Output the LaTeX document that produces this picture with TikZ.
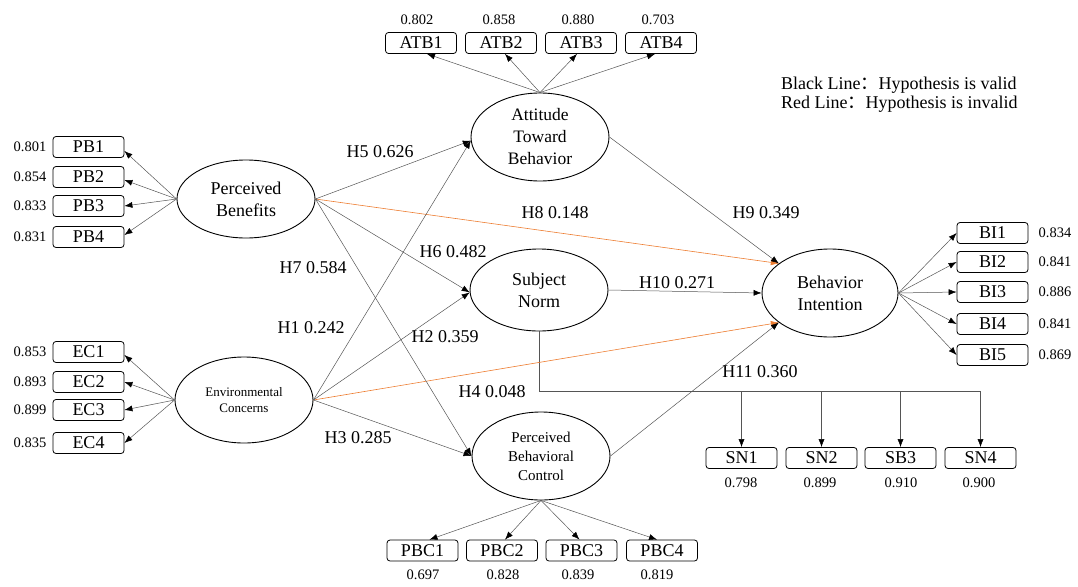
\documentclass[tikz,border=0pt]{standalone}
\usepackage{fontspec}
\setmainfont{Liberation Serif}
\newfontfamily\cjk{Noto Sans CJK SC}
\usetikzlibrary{shapes.geometric,arrows.meta,calc}
\definecolor{inv}{RGB}{237,125,49}
\definecolor{ln}{RGB}{85,85,85}
\begin{document}
\begin{tikzpicture}[x=1pt,y=-1pt,
  lat/.style={ellipse,draw,line width=0.9pt,inner sep=0pt,align=center,minimum width=138pt,minimum height=86pt,font=\fontsize{18}{22}\selectfont},
  ind/.style={draw,rounded corners=3pt,line width=0.8pt,minimum width=71pt,minimum height=21pt,inner sep=0pt,font=\fontsize{18}{20}\selectfont},
  val/.style={font=\fontsize{14.5}{16}\selectfont,inner sep=0pt},
  hyp/.style={font=\fontsize{18}{20}\selectfont,inner sep=0pt},
  leg/.style={font=\fontsize{18}{20}\selectfont,inner sep=0pt,anchor=west},
  conn/.style={draw=ln,line width=0.5pt,-{Latex[length=8pt,width=6pt,color=black]}},
  bad/.style={draw=inv,line width=0.6pt,-{Latex[length=8pt,width=6pt,color=inv]}},
  plain/.style={draw=ln,line width=0.5pt},
]
\useasboundingbox (0,0) rectangle (1078,586);

% latent variables
\node[lat,minimum height=88pt,font=\fontsize{17.5}{22}\selectfont] (ATB) at (540,137) {Attitude\\Toward\\Behavior};
\node[lat,minimum height=78pt] (PB) at (246,199) {Perceived\\Benefits};
\node[lat,font=\fontsize{13}{16}\selectfont] (EC) at (244,400) {Environmental\\Concerns};
\node[lat,minimum height=82pt] (SN) at (539,290) {Subject\\Norm};
\node[lat,minimum width=136pt,minimum height=88pt] (BI) at (830,293) {Behavior\\Intention};
\node[lat,minimum height=88pt,font=\fontsize{15}{19}\selectfont] (PBC) at (541,456) {Perceived\\Behavioral\\Control};

% ATB indicators
\node[ind] (ATB1) at (421,43) {ATB1};
\node[ind] (ATB2) at (501,43) {ATB2};
\node[ind] (ATB3) at (581,43) {ATB3};
\node[ind] (ATB4) at (661,43) {ATB4};
\node[val] (vATB1) at (417,20) {0.802};
\node[val] (vATB2) at (499,20) {0.858};
\node[val] (vATB3) at (578,20) {0.880};
\node[val] (vATB4) at (658,20) {0.703};
\draw[conn] (ATB.north) -- ($(ATB1.south)+(6,0)$);
\draw[conn] (ATB.north) -- ($(ATB2.south)+(4,0)$);
\draw[conn] (ATB.north) -- ($(ATB3.south)+(-4,0)$);
\draw[conn] (ATB.north) -- ($(ATB4.south)+(-6,0)$);

% PB indicators
\node[ind] (PB1) at (88.5,147) {PB1};
\node[ind] (PB2) at (88.5,177) {PB2};
\node[ind] (PB3) at (88.5,206) {PB3};
\node[ind] (PB4) at (88.5,237) {PB4};
\node[val] (vPB1) at (30,147) {0.801};
\node[val] (vPB2) at (30,177) {0.854};
\node[val] (vPB3) at (30,206) {0.833};
\node[val] (vPB4) at (30,237) {0.831};
\draw[conn] (PB.west) -- ($(PB1.east)+(0,4)$);
\draw[conn] (PB.west) -- ($(PB2.east)+(0,3)$);
\draw[conn] (PB.west) -- (PB3.east);
\draw[conn] (PB.west) -- ($(PB4.east)+(0,-2)$);

% EC indicators
\node[ind] (EC1) at (88.5,352) {EC1};
\node[ind] (EC2) at (88.5,382) {EC2};
\node[ind] (EC3) at (88.5,410) {EC3};
\node[ind] (EC4) at (88.5,443) {EC4};
\node[val] (vEC1) at (30,352) {0.853};
\node[val] (vEC2) at (30,382) {0.893};
\node[val] (vEC3) at (30,410) {0.899};
\node[val] (vEC4) at (30,443) {0.835};
\draw[conn] (EC.west) -- ($(EC1.east)+(0,3)$);
\draw[conn] (EC.west) -- (EC2.east);
\draw[conn] (EC.west) -- (EC3.east);
\draw[conn] (EC.west) -- (EC4.east);

% BI indicators
\node[ind] (BI1) at (992.5,233) {BI1};
\node[ind] (BI2) at (992.5,262) {BI2};
\node[ind] (BI3) at (992.5,292) {BI3};
\node[ind] (BI4) at (992.5,324) {BI4};
\node[ind] (BI5) at (992.5,355) {BI5};
\node[val] (vBI1) at (1055,233) {0.834};
\node[val] (vBI2) at (1055,262) {0.841};
\node[val] (vBI3) at (1055,292) {0.886};
\node[val] (vBI4) at (1055,324) {0.841};
\node[val] (vBI5) at (1055,355) {0.869};
\foreach \i in {1,...,5} {\draw[conn] (BI.east) -- (BI\i.west);}

% SN indicators
\node[ind] (SN1) at (741.5,458) {SN1};
\node[ind] (SN2) at (821.5,458) {SN2};
\node[ind] (SN3) at (900.5,458) {SB3};
\node[ind] (SN4) at (980.5,458) {SN4};
\node[val] (vSN1) at (741,483) {0.798};
\node[val] (vSN2) at (820,483) {0.899};
\node[val] (vSN3) at (901,483) {0.910};
\node[val] (vSN4) at (979,483) {0.900};
\coordinate (bus) at (539,391);
\draw[plain] (SN.south) -- (bus) -- (SN4.north |- bus);
\foreach \i in {1,...,4} {\draw[conn] (SN\i.north |- bus) -- (SN\i.north);}

% PBC indicators
\node[ind] (PBC1) at (422.5,550.5) {PBC1};
\node[ind] (PBC2) at (502,550.5) {PBC2};
\node[ind] (PBC3) at (581.5,550.5) {PBC3};
\node[ind] (PBC4) at (662,550.5) {PBC4};
\node[val] (vPBC1) at (423,575) {0.697};
\node[val] (vPBC2) at (503,575) {0.828};
\node[val] (vPBC3) at (578,575) {0.839};
\node[val] (vPBC4) at (657,575) {0.819};
\draw[conn] (PBC.south) -- ($(PBC1.north)+(7,0)$);
\draw[conn] (PBC.south) -- ($(PBC2.north)+(3,0)$);
\draw[conn] (PBC.south) -- ($(PBC3.north)+(-2,0)$);
\draw[conn] (PBC.south) -- ($(PBC4.north)+(-5,0)$);

% structural paths
\draw[bad] (PB.east) -- (BI.150);
\draw[bad] (EC.east) -- (BI.210);
\draw[conn] (PB.east) -- (ATB.183);
\draw[conn] (EC.east) -- (ATB.183);
\draw[conn] (PB.east) -- (SN.182);
\draw[conn] (EC.east) -- (SN.182);
\draw[conn] (PB.east) -- (PBC.west);
\draw[conn] (EC.east) -- (PBC.west);
\draw[conn] (ATB.east) -- (BI.150);
\draw[conn] (SN.east) -- (BI.west);
\draw[conn] (PBC.east) -- (BI.210);

% hypothesis labels
\node[hyp] (h5) at (380,152) {H5 0.626};
\node[hyp] (h8) at (555,213) {H8 0.148};
\node[hyp] (h9) at (766,213) {H9 0.349};
\node[hyp] (h7) at (313,268) {H7 0.584};
\node[hyp] (h6) at (453,252) {H6 0.482};
\node[hyp] (h10) at (677,283) {H10 0.271};
\node[hyp] (h1) at (311,328) {H1 0.242};
\node[hyp] (h2) at (445,337) {H2 0.359};
\node[hyp] (h4) at (492,392) {H4 0.048};
\node[hyp] (h11) at (760,372) {H11 0.360};
\node[hyp] (h3) at (358,438) {H3 0.285};

% legend
\node[leg] (leg1) at (781,85) {Black Line{\cjk ：}Hypothesis is valid};
\node[leg] (leg2) at (781,104) {Red Line{\cjk ：}Hypothesis is invalid};
\end{tikzpicture}
\end{document}
